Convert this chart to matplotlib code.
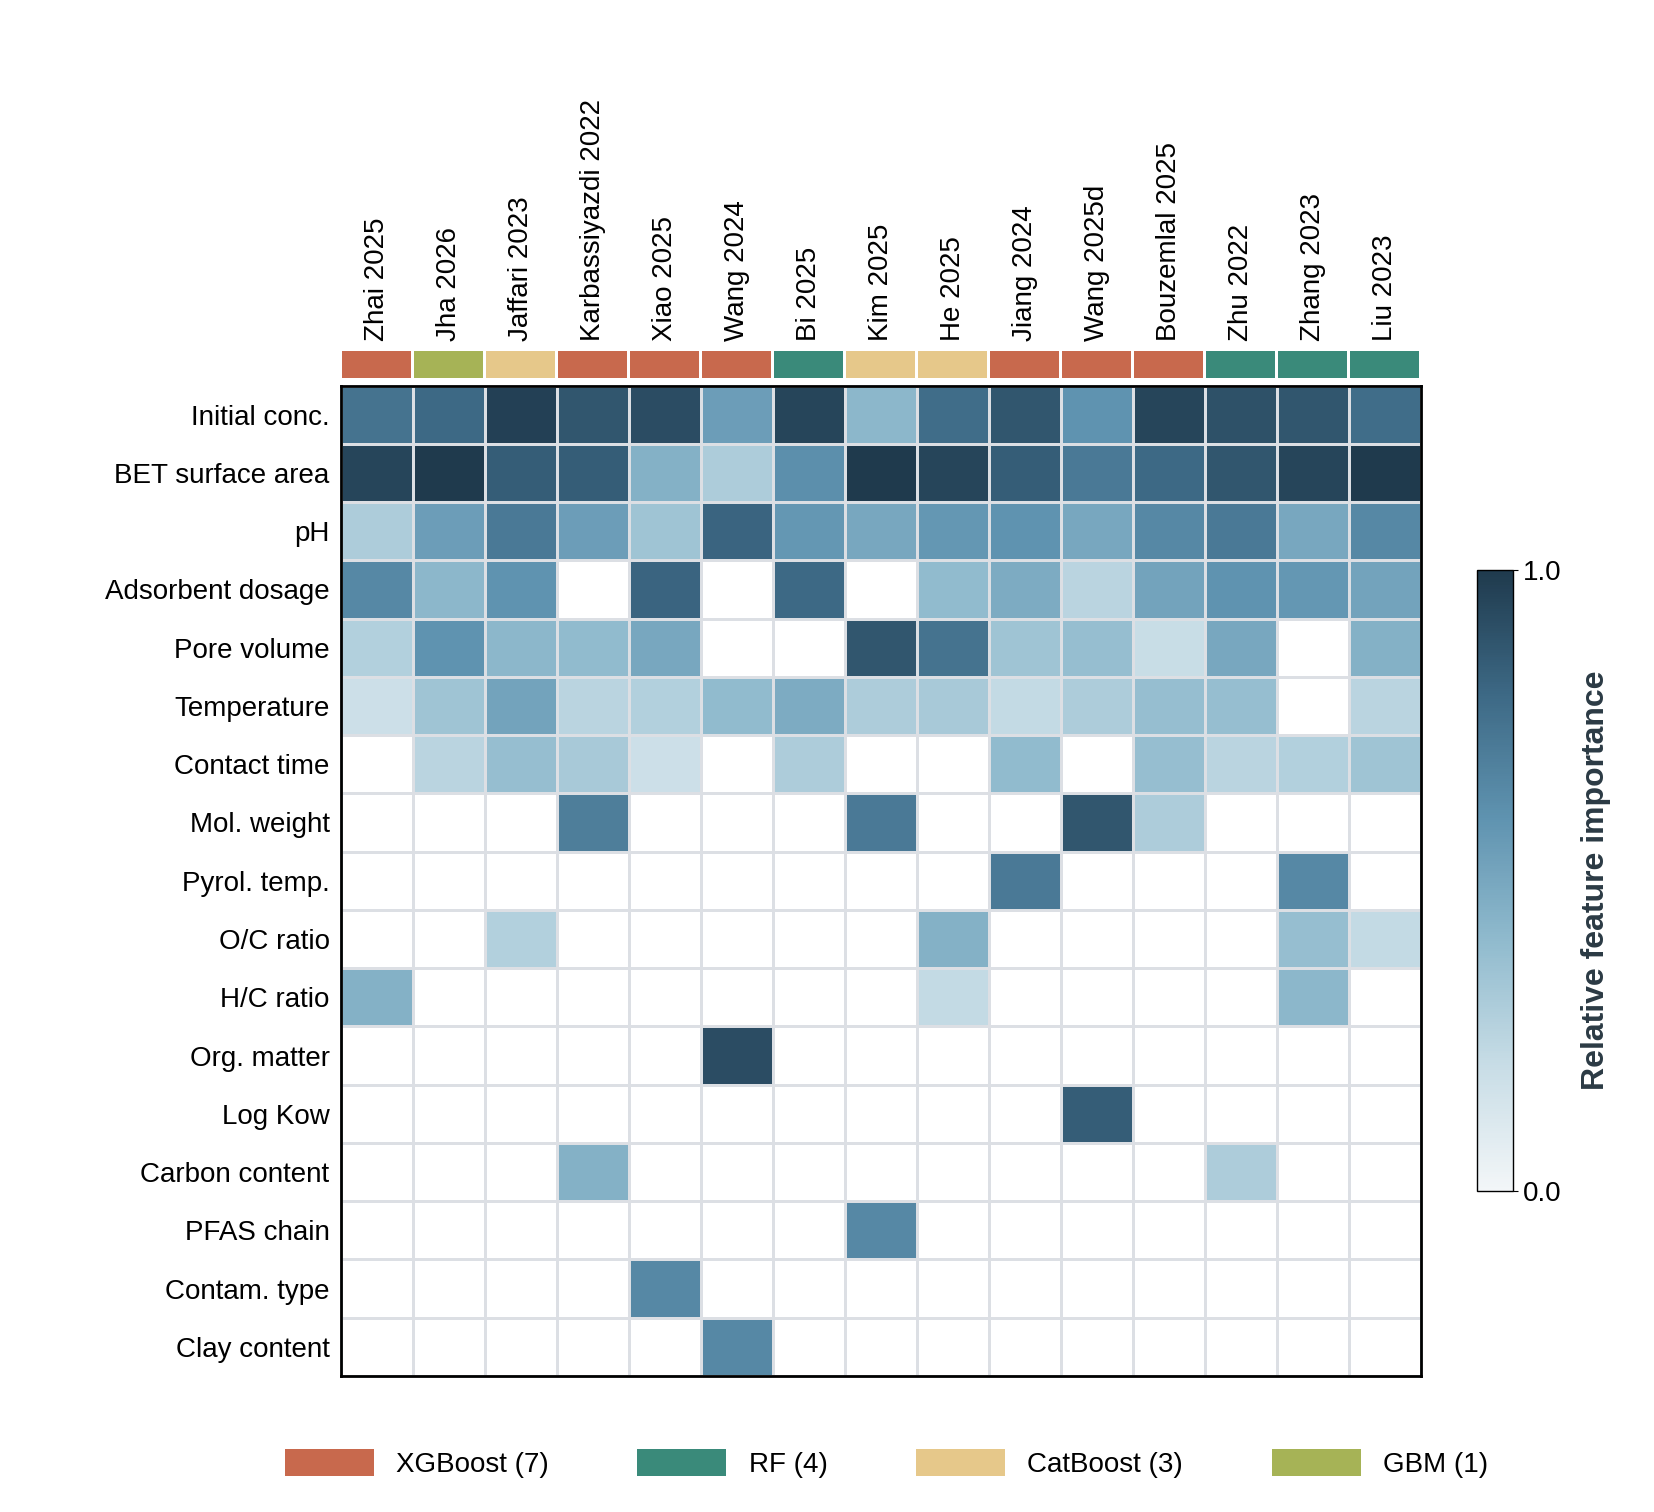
import numpy as np
import matplotlib
matplotlib.use("Agg")
import matplotlib.pyplot as plt
from matplotlib.colors import LinearSegmentedColormap
from matplotlib.patches import Patch

plt.rcParams['font.family'] = ['Liberation Sans', 'DejaVu Sans']

studies = ["Zhai 2025","Jha 2026","Jaffari 2023","Karbassiyazdi 2022","Xiao 2025","Wang 2024",
           "Bi 2025","Kim 2025","He 2025","Jiang 2024","Wang 2025d","Bouzemlal 2025","Zhu 2022",
           "Zhang 2023","Liu 2023"]
models = ["XGBoost","GBM","CatBoost","XGBoost","XGBoost","XGBoost","RF","CatBoost","CatBoost",
          "XGBoost","XGBoost","XGBoost","RF","RF","RF"]
features = ["Initial conc.","BET surface area","pH","Adsorbent dosage","Pore volume","Temperature",
            "Contact time","Mol. weight","Pyrol. temp.","O/C ratio","H/C ratio","Org. matter",
            "Log Kow","Carbon content","PFAS chain","Contam. type","Clay content"]

initial_conc = [0.75,0.8,0.97,0.88,0.92,0.55,0.95,0.42,0.78,0.88,0.6,0.95,0.9,0.88,0.78]
bet_area     = [0.95,1.0,0.85,0.85,0.45,0.3,0.62,1.0,0.95,0.85,0.72,0.8,0.88,0.95,1.0]
ph           = [0.3,0.55,0.72,0.55,0.35,0.82,0.58,0.5,0.58,0.6,0.5,0.65,0.72,0.5,0.65]
dosage       = [0.65,0.42,0.6,0,0.82,0,0.8,0,0.4,0.48,0.25,0.52,0.6,0.58,0.52]
pore_volume  = [0.28,0.6,0.42,0.4,0.5,0,0,0.88,0.75,0.35,0.38,0.2,0.5,0,0.45]
temperature  = [0.18,0.35,0.52,0.25,0.28,0.4,0.48,0.3,0.32,0.22,0.3,0.38,0.38,0,0.25]
contact_time = [0,0.25,0.38,0.32,0.18,0,0.3,0,0,0.4,0,0.38,0.25,0.28,0.35]
mol_weight   = [0,0,0,0.7,0,0,0,0.72,0,0,0.88,0.3,0,0,0]
pyrol_temp   = [0,0,0,0,0,0,0,0,0,0.72,0,0,0,0.65,0]
oc_ratio     = [0,0,0.28,0,0,0,0,0,0.45,0,0,0,0,0.38,0.22]
hc_ratio     = [0.45,0,0,0,0,0,0,0,0.22,0,0,0,0,0.42,0]
org_matter   = [0,0,0,0,0,0.92,0,0,0,0,0,0,0,0,0]
log_kow      = [0,0,0,0,0,0,0,0,0,0,0.85,0,0,0,0]
carbon       = [0,0,0,0.45,0,0,0,0,0,0,0,0,0.3,0,0]
pfas_chain   = [0,0,0,0,0,0,0,0.65,0,0,0,0,0,0,0]
contam_type  = [0,0,0,0,0.65,0,0,0,0,0,0,0,0,0,0]
clay         = [0,0,0,0,0,0.65,0,0,0,0,0,0,0,0,0]

rows = [initial_conc,bet_area,ph,dosage,pore_volume,temperature,contact_time,mol_weight,
        pyrol_temp,oc_ratio,hc_ratio,org_matter,log_kow,carbon,pfas_chain,contam_type,clay]
data = np.ma.masked_equal(np.array(rows, float), 0)

model_colors = {"XGBoost":"#c8694d","RF":"#3a8a7a","CatBoost":"#e6c88a","GBM":"#a6b356"}
legend_order = ["XGBoost","RF","CatBoost","GBM"]

cmap = LinearSegmentedColormap.from_list("imp", ["#f3f6f8","#c8dde6","#91bbce","#5f93b0","#3d6985","#1f3a4d"])
cmap.set_bad("white")

fig = plt.figure(figsize=(16.54,15.12), dpi=100)
ax = fig.add_axes([0.206,0.09,0.653,0.655])
nr, nc = data.shape
mesh = ax.pcolormesh(np.arange(nc+1), np.arange(nr+1), data, cmap=cmap, vmin=0, vmax=1,
                     edgecolor="#dcdfe4", linewidth=0.8)
ax.set_xlim(0,nc); ax.set_ylim(nr,0)
ax.set_yticks(np.arange(nr)+0.5); ax.set_yticklabels(features, fontsize=20)
ax.set_xticks([])
ax.tick_params(length=0, pad=8)
for s in ax.spines.values():
    s.set_linewidth(2); s.set_color("black")

sax = fig.add_axes([0.206,0.750,0.653,0.018], sharex=ax)
for i, m in enumerate(models):
    sax.bar(i+0.5, 1, width=0.96, color=model_colors[m])
sax.set_ylim(0,1); sax.axis("off")
for i, st in enumerate(studies):
    sax.text(i+0.5, 1.35, st, rotation=90, ha="center", va="bottom", fontsize=20)

cax = fig.add_axes([0.893,0.212,0.022,0.411])
cb = fig.colorbar(mesh, cax=cax, ticks=[0,1])
cb.ax.set_yticklabels(["0.0","1.0"], fontsize=20)
cb.outline.set_linewidth(1)
cb.set_label("Relative feature importance", fontsize=23, fontweight="bold", color="#2b3a44", labelpad=14)

handles = [Patch(facecolor=model_colors[m], label=f"{m} ({models.count(m)})") for m in legend_order]
fig.legend(handles=handles, loc="center", bbox_to_anchor=(0.536,0.032), ncol=4, frameon=False,
           fontsize=20, handlelength=3.2, handleheight=1.1, columnspacing=3.2)

fig.savefig("out.png", dpi=100, facecolor="white")
